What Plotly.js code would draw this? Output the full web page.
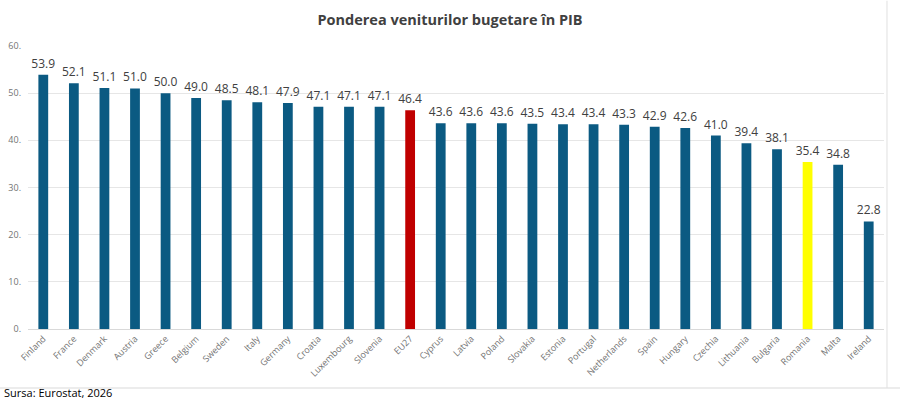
<!DOCTYPE html>
<html><head><meta charset="utf-8">
<script src="https://cdn.plot.ly/plotly-3.0.1.min.js"></script>
<style>html,body{margin:0;padding:0;background:#fff;}#chart{width:900px;height:400px;}</style>
</head><body><div id="chart"></div>
<script>
const countries = ["Finland","France","Denmark","Austria","Greece","Belgium","Sweden","Italy","Germany","Croatia","Luxembourg","Slovenia","EU27","Cyprus","Latvia","Poland","Slovakia","Estonia","Portugal","Netherlands","Spain","Hungary","Czechia","Lithuania","Bulgaria","Romania","Malta","Ireland"];
const values = [53.9,52.1,51.1,51.0,50.0,49.0,48.5,48.1,47.9,47.1,47.1,47.1,46.4,43.6,43.6,43.6,43.5,43.4,43.4,43.3,42.9,42.6,41.0,39.4,38.1,35.4,34.8,22.8];
const yTickVals = [0,10,20,30,40,50,60];
const yTickText = ["0.","10.","20.","30.","40.","50.","60."];
const colorDefault = "#0B5A82", colorEU = "#C00000", colorRO = "#FFFF00";
const colors = countries.map(c => c === "EU27" ? colorEU : (c === "Romania" ? colorRO : colorDefault));

const trace = {
  type: "bar", x: countries, y: values,
  marker: {color: colors},
  text: values.map(v => v.toFixed(1)),
  textposition: "outside", cliponaxis: false, constraintext: "none",
  textfont: {family: "Open Sans, sans-serif", size: 12, color: "#404040"},
  hoverinfo: "x+y"
};
const layout = {
  width: 900, height: 400,
  margin: {l: 28, r: 16, t: 46, b: 71},
  paper_bgcolor: "#fff", plot_bgcolor: "#fff",
  bargap: 0.68,
  showlegend: false,
  title: {text: "Ponderea veniturilor bugetare în PIB", x: 0.5, xanchor: "center", y: 0.95, yanchor: "middle",
          font: {family: "Open Sans, sans-serif", size: 14.5, color: "#404040", weight: "bold"}},
  xaxis: {tickangle: -45, tickfont: {family: "Open Sans, sans-serif", size: 9, color: "#737373"},
          showline: true, linecolor: "#d9d9d9", linewidth: 1, ticks: "", fixedrange: true},
  yaxis: {range: [0, 60], tickvals: yTickVals, ticktext: yTickText, ticklabelstandoff: 6,
          tickfont: {family: "Open Sans, sans-serif", size: 9, color: "#737373"},
          gridcolor: "#e6e6e6", zeroline: false, showline: false, ticks: "", fixedrange: true},
  shapes: [
    {type: "line", xref: "paper", yref: "paper", x0: -0.04, x1: 1.02, y0: -0.2085, y1: -0.2085, line: {color: "#d9d9d9", width: 1}},
    {type: "line", xref: "paper", yref: "paper", x0: 1.0035, x1: 1.0035, y0: -0.2085, y1: 1.16, line: {color: "#e0e0e0", width: 1}}
  ],
  annotations: [
    {text: "Sursa: Eurostat, 2026", xref: "paper", yref: "paper", x: -0.0304, y: -0.226, xanchor: "left", yanchor: "middle",
     showarrow: false, font: {family: "Open Sans, sans-serif", size: 11, color: "#000"}}
  ]
};
Plotly.newPlot("chart", [trace], layout, {displayModeBar: false, staticPlot: true});
</script></body></html>
